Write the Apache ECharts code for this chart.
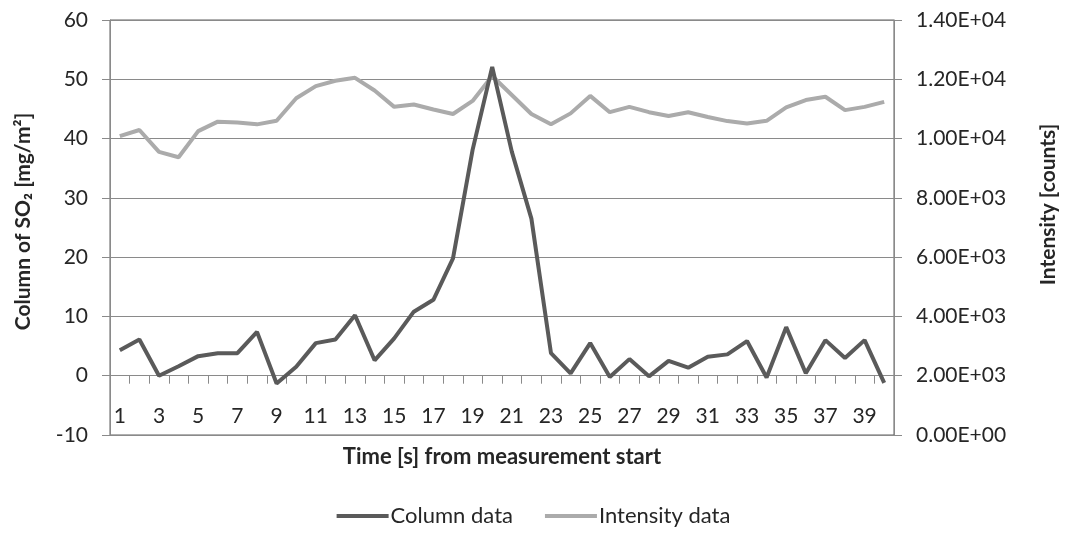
<!DOCTYPE html>
<html>
<head>
<meta charset="utf-8">
<script src="https://cdn.jsdelivr.net/npm/echarts@6/dist/echarts.min.js"></script>
<style>
  html, body { margin: 0; padding: 0; background: #fff; }
  #chart { width: 1067px; height: 533px; }
</style>
</head>
<body>
<div id="chart"></div>
<script>
// Time since measurement start, in seconds
const timeSeconds = [1,2,3,4,5,6,7,8,9,10,11,12,13,14,15,16,17,18,19,20,
                     21,22,23,24,25,26,27,28,29,30,31,32,33,34,35,36,37,38,39,40];

// SO2 column retrieved per second [mg/m2]
const columnData = [4.3, 6.1, 0.0, 1.6, 3.3, 3.8, 3.8, 7.4, -1.3, 1.5,
                    5.5, 6.1, 10.2, 2.6, 6.3, 10.8, 12.8, 19.8, 38.1, 52.1,
                    37.8, 26.5, 3.8, 0.4, 5.5, -0.2, 2.8, -0.1, 2.5, 1.35,
                    3.2, 3.6, 5.85, -0.3, 8.2, 0.4, 6.0, 3.0, 6.0, -1.2];

// Spectrum intensity per second [counts]
const intensityData = [10080, 10290, 9550, 9370, 10250, 10570, 10540, 10480, 10600, 11360,
                       11770, 11950, 12050, 11620, 11070, 11150, 10980, 10830, 11270, 12110,
                       11470, 10830, 10480, 10850, 11440, 10890, 11070, 10890, 10760, 10890,
                       10730, 10590, 10510, 10600, 11050, 11300, 11410, 10960, 11070, 11240];

// Left axis range; the time axis crosses it at zero
const COLUMN_MIN = -10, COLUMN_MAX = 60, COLUMN_STEP = 10;
const INTENSITY_MIN = 0, INTENSITY_MAX = 14000, INTENSITY_STEP = 2000;

const FONT = 'Lato, "Open Sans", sans-serif';
const TEXT = '#262626';
const GRID_GRAY = '#8a8a8a';

const GRID = { left: 110, right: 164, top: 20, bottom: 98 };
const PLOT_H = 533 - GRID.top - GRID.bottom;
// distance from the bottom of the plot up to the zero line of the left axis
const ZERO_LIFT = PLOT_H * (0 - COLUMN_MIN) / (COLUMN_MAX - COLUMN_MIN);

// Excel-style scientific notation: 1.40E+04
function sci(v) {
  const parts = Number(v).toExponential(2).split('e');
  const exp = parseInt(parts[1], 10);
  const sign = exp < 0 ? '-' : '+';
  const digits = String(Math.abs(exp)).padStart(2, '0');
  return parts[0] + 'E' + sign + digits;
}

const chart = echarts.init(document.getElementById('chart'), null, { renderer: 'canvas' });

chart.setOption({
  animation: false,
  backgroundColor: '#ffffff',
  textStyle: { fontFamily: FONT, color: TEXT },
  grid: {
    left: GRID.left, right: GRID.right, top: GRID.top, bottom: GRID.bottom,
    show: true, borderColor: '#5f5f5f', borderWidth: 1
  },
  legend: {
    bottom: 1,
    left: 'center',
    icon: 'rect',
    itemWidth: 52,
    itemHeight: 4,
    itemGap: 32,
    textStyle: { fontFamily: FONT, fontSize: 22, color: TEXT, padding: [0, 0, 0, -3] },
    data: ['Column data', 'Intensity data']
  },
  xAxis: {
    type: 'category',
    data: timeSeconds,
    boundaryGap: true,
    position: 'bottom',
    offset: -ZERO_LIFT,
    name: 'Time [s] from measurement start',
    nameLocation: 'middle',
    nameGap: 70,
    nameTextStyle: { fontFamily: FONT, fontSize: 22, fontWeight: 'bold', color: TEXT },
    axisLine: { onZero: false, lineStyle: { color: GRID_GRAY, width: 1 } },
    axisTick: { show: true, interval: 0, length: 8, lineStyle: { color: GRID_GRAY } },
    axisLabel: { interval: 1, margin: 30, fontSize: 21, color: TEXT, fontFamily: FONT },
    splitLine: { show: false }
  },
  yAxis: [
    {
      type: 'value',
      min: COLUMN_MIN, max: COLUMN_MAX, interval: COLUMN_STEP,
      position: 'left',
      name: 'Column of SO\u2082 [mg/m\u00B2]',
      nameLocation: 'middle',
      nameGap: 76,
      nameTextStyle: { fontFamily: FONT, fontSize: 21, fontWeight: 'bold', color: TEXT, padding: [0, 0, 0, 12] },
      axisLine: { show: true, lineStyle: { color: GRID_GRAY } },
      axisTick: { show: true, length: 8, lineStyle: { color: GRID_GRAY } },
      axisLabel: { margin: 22, fontSize: 21, color: TEXT, fontFamily: FONT },
      splitLine: { show: true, lineStyle: { color: GRID_GRAY, width: 1 } }
    },
    {
      type: 'value',
      min: INTENSITY_MIN, max: INTENSITY_MAX, interval: INTENSITY_STEP,
      position: 'right',
      name: 'Intensity [counts]',
      nameLocation: 'middle',
      nameGap: 144,
      nameTextStyle: { fontFamily: FONT, fontSize: 21, fontWeight: 'bold', color: TEXT, padding: [0, 0, 0, 46] },
      axisLine: { show: true, lineStyle: { color: GRID_GRAY } },
      axisTick: { show: true, length: 8, lineStyle: { color: GRID_GRAY } },
      axisLabel: { margin: 22, fontSize: 21, color: TEXT, fontFamily: FONT, formatter: sci },
      splitLine: { show: false }
    }
  ],
  series: [
    {
      name: 'Column data',
      type: 'line',
      yAxisIndex: 0,
      data: columnData,
      symbol: 'none',
      z: 3,
      lineStyle: { color: '#5a5a5a', width: 4 },
      itemStyle: { color: '#5a5a5a' }
    },
    {
      name: 'Intensity data',
      type: 'line',
      yAxisIndex: 1,
      data: intensityData,
      symbol: 'none',
      z: 2,
      lineStyle: { color: '#ababab', width: 4 },
      itemStyle: { color: '#ababab' }
    }
  ]
});
</script>
</body>
</html>
